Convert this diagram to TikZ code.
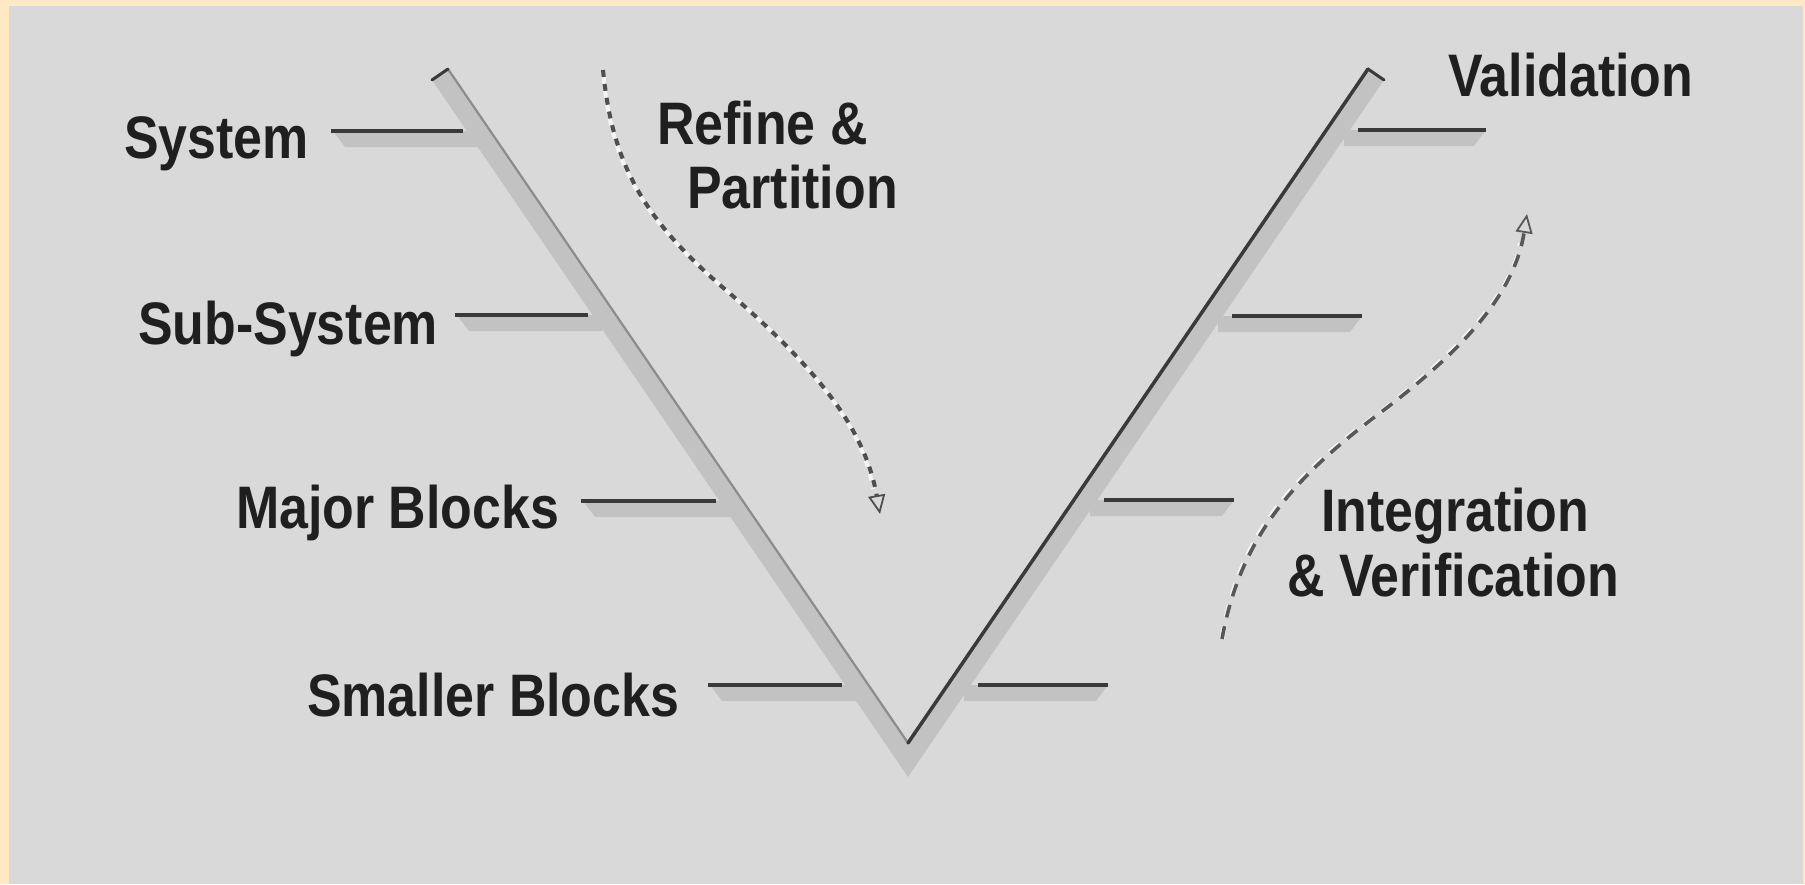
\documentclass[tikz,border=0pt]{standalone}
\usepackage{fontspec}
\newfontfamily\lab[FakeStretch=0.865]{Liberation Sans}
\usetikzlibrary{arrows.meta}
\definecolor{cream}{HTML}{FEE9C4}
\definecolor{bg}{HTML}{D9D9D9}
\definecolor{band}{HTML}{C2C2C2}
\definecolor{dark}{HTML}{3A3A3A}
\definecolor{ink}{HTML}{1F1F1F}
\definecolor{hilite}{HTML}{F4F4F4}
\begin{document}
\begin{tikzpicture}[x=1pt,y=-1pt,
  lbl/.style={anchor=base west, inner sep=0pt, text=ink, font=\lab\bfseries\fontsize{60}{64}\selectfont},
  tickline/.style={draw=dark, line width=3.5pt},
  tickshadow/.style={fill=band},
  barline/.style={draw=dark, line width=3.5pt, line cap=round},
  flowlight/.style={draw=hilite, line width=4pt, dash pattern=on 7pt off 7pt, dash phase=7pt},
  flowdark/.style={draw=dark!90, line width=4pt, dash pattern=on 7pt off 7pt},
  flowtip/.style={-{Triangle[open, length=19pt, width=17pt, line width=1.8pt]}}
]
% background and margins
\fill[cream] (0,0) rectangle (1805,884);
\fill[bg] (9,6) rectangle (1803,884);
\useasboundingbox (0,0) rectangle (1805,884);

% tick shadows (left side)
\foreach \a/\b/\y in {331/463/131, 455/588/315, 581/716/501, 708/842/685}{
  \fill[tickshadow] (\a+2,\y) -- (\b+14,\y) -- (\b+14,\y+16) -- (\a+14,\y+16) -- cycle;
}
% tick shadows (right side)
\foreach \a/\b/\y in {1358/1486/130, 1232/1362/316, 1104/1234/500, 978/1108/685}{
  \fill[tickshadow] (\a-14,\y) -- (\b,\y) -- (\b-12,\y+16) -- (\a-14,\y+16) -- cycle;
}

% the V bar
\coordinate (LI) at (448,69);
\coordinate (LO) at (432,80);
\coordinate (RI) at (1368,69);
\coordinate (RO) at (1384,80);
\coordinate (AI) at (908,743);
\coordinate (AO) at (908,777);
\fill[band] (LI) -- (AI) -- (RI) -- (RO) -- (AO) -- (LO) -- cycle;
\draw[draw=black!45, line width=2.2pt] (LI) -- (AI);
\draw[barline] (RI) -- (AI);
\draw[barline, line width=3pt] (LO) -- (LI);
\draw[barline, line width=3pt] (RI) -- (RO);

% tick lines
\foreach \a/\b/\y in {331/463/131, 455/588/315, 581/716/501, 708/842/685,
                      1358/1486/130, 1232/1362/316, 1104/1234/500, 978/1108/685}{
  \draw[tickline] (\a,\y) -- (\b,\y);
}

% Refine & Partition arrow
\coordinate (rs) at (603,70);
\coordinate (rm) at (720,285);
\coordinate (re) at (880,514);
\draw[flowlight, xshift=-2pt, yshift=1pt] (rs) .. controls (612,160) and (640,215) .. (rm)
      .. controls (820,370) and (865,430) .. (875,490);
\draw[flowdark, flowtip] (rs) .. controls (612,160) and (640,215) .. (rm)
      .. controls (820,370) and (865,430) .. (re);

% Integration & Verification arrow
\coordinate (is) at (1222,639);
\coordinate (im) at (1380,413);
\coordinate (ie) at (1527,214);
\draw[draw=hilite, line width=5pt, dash pattern=on 13pt off 9pt, xshift=-1.5pt, yshift=1.5pt]
      (is) .. controls (1240,540) and (1290,480) .. (im)
      .. controls (1470,345) and (1515,290) .. (1522,245);
\draw[draw=dark!85, line width=3.6pt, dash pattern=on 13pt off 9pt, flowtip]
      (is) .. controls (1240,540) and (1290,480) .. (im)
      .. controls (1470,345) and (1515,290) .. (ie);

% labels
\node[lbl] (system) at (124,158) {System};
\node[lbl] (subsystem) at (138,344) {Sub-System};
\node[lbl] (major) at (236,528) {Major Blocks};
\node[lbl] (smaller) at (307,716) {Smaller Blocks};
\node[lbl] (refine) at (657,144) {Refine \&};
\node[lbl] (partition) at (687,208) {Partition};
\node[lbl] (validation) at (1448,96) {Validation};
\node[lbl] (integration) at (1321,531) {Integration};
\node[lbl] (verification) at (1287,596) {\& Verification};
\end{tikzpicture}
\end{document}
